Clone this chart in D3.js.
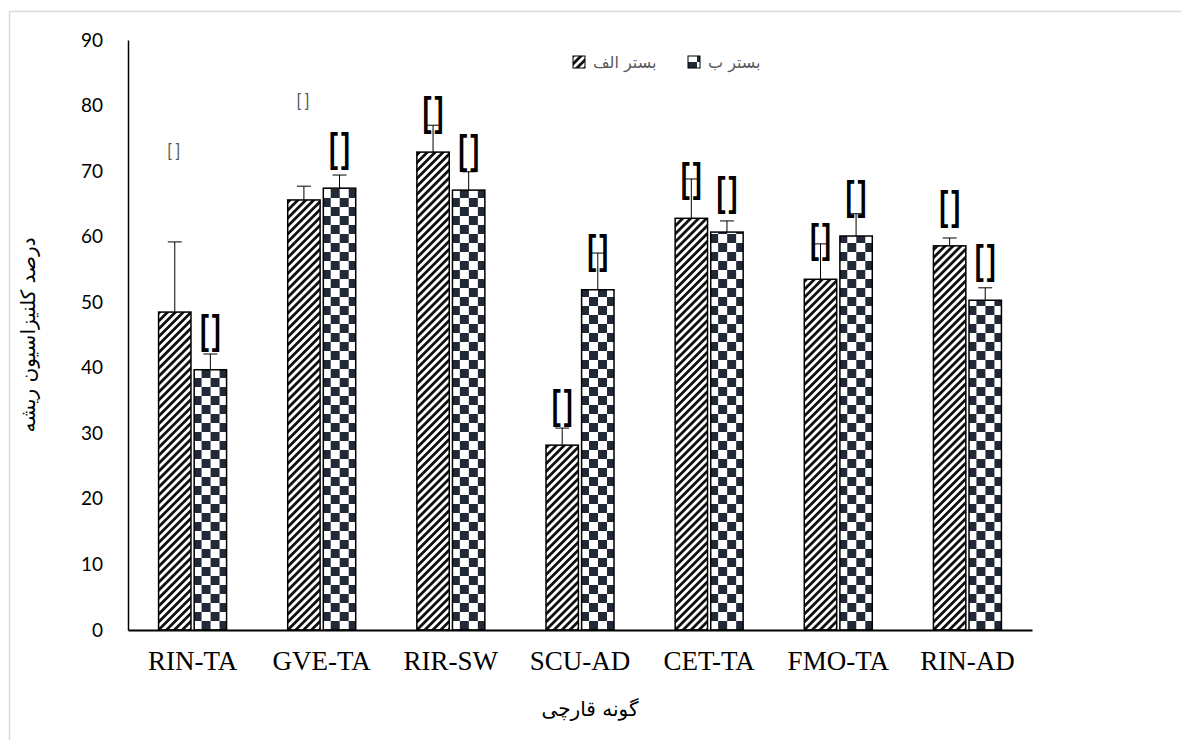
<!DOCTYPE html>
<html>
<head>
<meta charset="utf-8">
<script src="https://cdn.jsdelivr.net/npm/d3@7"></script>
<style>
  body { margin: 0; background: #fff; }
  svg { display: block; }
</style>
</head>
<body>
<div id="canvas"><svg width="1181" height="740"></svg></div>
<script>
// data
var categories = ["RIN-TA", "GVE-TA", "RIR-SW", "SCU-AD", "CET-TA", "FMO-TA", "RIN-AD"];
var seriesNames = ["بستر الف", "بستر ب"];
var valuesA = [48.5, 65.6, 72.9, 28.2, 62.8, 53.5, 58.6];
var valuesB = [39.7, 67.4, 67.1, 51.9, 60.7, 60.1, 50.3];
var errTopA = [59.2, 67.7, 77.0, 30.8, 68.8, 58.9, 59.8];
var errTopB = [42.1, 69.4, 69.9, 57.5, 62.4, 63.5, 52.2];
// "[]" labels: big ones sit over the bar, two small ones were dragged higher
var smallLabelA = [73.2, 80.8, null, null, null, null, null];
var yTicks = [0, 10, 20, 30, 40, 50, 60, 70, 80, 90];

var svg = d3.select("#canvas svg"),
    width = 1181,
    height = 740,
    margin = {left: 128, right: 149, top: 40, bottom: 110};

// outer frame
svg.append("rect")
  .attr("x", 9.5).attr("y", 11.5)
  .attr("width", width + 20).attr("height", height + 20)
  .attr("fill", "none").attr("stroke", "#d9d9d9").attr("stroke-width", 1.5);

var defs = svg.append("defs");

// wide upward diagonal
var hatch = defs.append("pattern")
  .attr("id", "hatch")
  .attr("patternUnits", "userSpaceOnUse")
  .attr("width", 5.6).attr("height", 5.6)
  .attr("patternTransform", "rotate(45)");
hatch.append("rect").attr("width", 5.6).attr("height", 5.6).attr("fill", "#fff");
hatch.append("rect").attr("width", 2.8).attr("height", 5.6).attr("fill", "#111");

// large checkerboard
var check = defs.append("pattern")
  .attr("id", "check")
  .attr("patternUnits", "userSpaceOnUse")
  .attr("width", 18).attr("height", 18);
check.append("rect").attr("width", 18).attr("height", 18).attr("fill", "#fff");
check.append("rect").attr("width", 9).attr("height", 9).attr("fill", "#222a38");
check.append("rect").attr("x", 9).attr("y", 9).attr("width", 9).attr("height", 9).attr("fill", "#222a38");

var fills = ["url(#hatch)", "url(#check)"];

var x = d3.scaleBand()
  .domain(categories)
  .range([margin.left, width - margin.right])
  .padding(0);

var x1 = d3.scaleBand()
  .domain([0, 1])
  .range([-34, 34])
  .paddingInner(0.09);

var y = d3.scaleLinear()
  .domain([0, 90])
  .range([height - margin.bottom, margin.top]);

var rows = categories.map(function (c, i) {
  return {
    cat: c,
    vals: [
      {s: 0, v: valuesA[i], e: errTopA[i], small: smallLabelA[i]},
      {s: 1, v: valuesB[i], e: errTopB[i], small: null}
    ]
  };
});

var groups = svg.selectAll(".cat")
  .data(rows)
  .enter()
  .append("g")
  .attr("class", "cat")
  .attr("transform", function (d) { return "translate(" + (x(d.cat) + x.bandwidth() / 2) + ",0)"; });

var items = groups.selectAll(".item")
  .data(function (d) { return d.vals; })
  .enter()
  .append("g")
  .attr("class", "item");

function mid(d) { return x1(d.s) + x1.bandwidth() / 2; }

items.append("rect")
  .attr("x", function (d) { return x1(d.s); })
  .attr("y", function (d) { return y(d.v); })
  .attr("width", x1.bandwidth())
  .attr("height", function (d) { return y(0) - y(d.v); })
  .attr("fill", function (d) { return fills[d.s]; })
  .attr("stroke", "#000")
  .attr("stroke-width", 1.5);

// error bars (plus side only)
items.append("line")
  .attr("x1", mid).attr("x2", mid)
  .attr("y1", function (d) { return y(d.v); })
  .attr("y2", function (d) { return y(d.e); })
  .attr("stroke", "#000").attr("stroke-width", 1);

items.append("line")
  .attr("x1", function (d) { return mid(d) - 7; })
  .attr("x2", function (d) { return mid(d) + 7; })
  .attr("y1", function (d) { return y(d.e); })
  .attr("y2", function (d) { return y(d.e); })
  .attr("stroke", "#000").attr("stroke-width", 1);

// data labels "[]" (tall, narrow brackets)
items.filter(function (d) { return d.small == null; })
  .append("text")
  .attr("transform", function (d) { return "translate(" + (mid(d) + 1.5) + "," + (y(d.v) - 26) + ") scale(1,1.5)"; })
  .attr("text-anchor", "middle")
  .attr("font-family", "Liberation Sans, Arial, sans-serif")
  .attr("font-weight", "bold")
  .attr("font-size", 27)
  .attr("letter-spacing", 3)
  .attr("fill", "#000")
  .text("[]");

items.filter(function (d) { return d.small != null; })
  .append("text")
  .attr("transform", function (d) { return "translate(" + (mid(d) - 1) + "," + (y(d.small) + 6) + ") scale(1,1.2)"; })
  .attr("text-anchor", "middle")
  .attr("font-family", "Liberation Sans, Arial, sans-serif")
  .attr("font-size", 15)
  .attr("fill", "#595959")
  .text("[ ]");

// axes
var yAxis = svg.append("g")
  .attr("transform", "translate(" + margin.left + ",0)")
  .call(d3.axisLeft(y).tickValues(yTicks).tickSize(0).tickPadding(25));
yAxis.select(".domain").attr("stroke", "#000").attr("stroke-width", 1.5);
yAxis.selectAll("text")
  .attr("font-family", "Lato, Open Sans, sans-serif")
  .attr("font-size", 19)
  .attr("fill", "#000");

var xAxis = svg.append("g")
  .attr("transform", "translate(0," + y(0) + ")")
  .call(d3.axisBottom(x).tickSize(0).tickPadding(21));
xAxis.select(".domain").attr("stroke", "#000").attr("stroke-width", 2.2);
xAxis.selectAll("text")
  .attr("font-family", "Liberation Serif, Times New Roman, serif")
  .attr("font-size", 27)
  .attr("fill", "#000");

// axis titles
svg.append("text")
  .attr("transform", "translate(35," + ((y(0) + y(90)) / 2) + ") rotate(-90)")
  .attr("text-anchor", "middle")
  .attr("font-family", "DejaVu Sans, sans-serif")
  .attr("font-size", 20)
  .attr("fill", "#000")
  .text("درصد کلنیزاسیون ریشه");

svg.append("text")
  .attr("x", 590)
  .attr("y", 716)
  .attr("text-anchor", "middle")
  .attr("font-family", "DejaVu Sans, sans-serif")
  .attr("font-size", 20)
  .attr("fill", "#000")
  .text("گونه قارچی");

// legend
var legend = svg.append("g").attr("transform", "translate(0,62)");
var legendX = [573, 688];
var leg = legend.selectAll(".leg")
  .data(seriesNames)
  .enter()
  .append("g")
  .attr("class", "leg")
  .attr("transform", function (d, i) { return "translate(" + legendX[i] + ",0)"; });
leg.append("rect")
  .attr("x", 0).attr("y", -6)
  .attr("width", 12).attr("height", 12)
  .attr("fill", function (d, i) { return fills[i]; })
  .attr("stroke", "#000").attr("stroke-width", 1);
leg.append("text")
  .attr("x", 20).attr("y", 6)
  .attr("font-family", "DejaVu Sans, sans-serif")
  .attr("font-size", 16)
  .attr("fill", "#595959")
  .text(function (d) { return d; });
</script>
</body>
</html>
